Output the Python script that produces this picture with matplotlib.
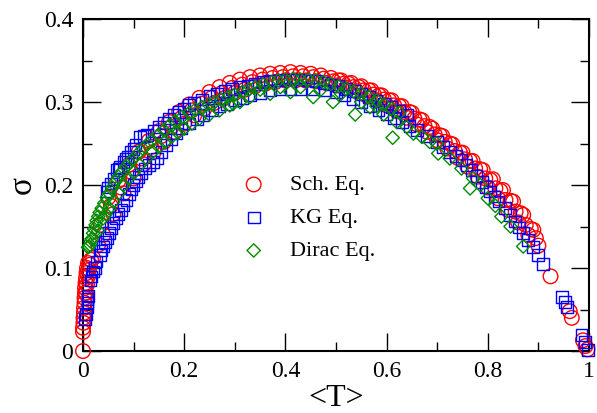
import matplotlib
matplotlib.use("Agg")
import matplotlib.pyplot as plt
from matplotlib.ticker import MultipleLocator, FormatStrFormatter

plt.rcParams['font.family'] = ['Liberation Serif', 'DejaVu Serif']

# Sch. Eq. (red circles)
sch_t = [0.000, 0.000, 0.000, 0.001, 0.001, 0.002, 0.002, 0.003, 0.003, 0.004, 0.004,
         0.005, 0.006, 0.007, 0.008, 0.010, 0.006, 0.008, 0.010, 0.012, 0.014, 0.016,
         # lower track
         0.02, 0.03, 0.04, 0.06, 0.08, 0.10, 0.12, 0.14, 0.16, 0.18, 0.20, 0.22, 0.24,
         0.26, 0.28, 0.30, 0.32, 0.34, 0.36, 0.38, 0.40, 0.42, 0.44, 0.46, 0.48, 0.50,
         0.52, 0.54, 0.56, 0.58, 0.60, 0.62, 0.64, 0.66, 0.68, 0.70, 0.72, 0.74, 0.76,
         0.78, 0.80, 0.82, 0.84, 0.86, 0.88, 0.90,
         # upper track
         0.05, 0.07, 0.09, 0.11, 0.13, 0.15, 0.17, 0.19, 0.21, 0.23, 0.25, 0.27, 0.29,
         0.31, 0.33, 0.35, 0.37, 0.39, 0.41, 0.43, 0.45, 0.47, 0.49, 0.51, 0.53, 0.55,
         0.57, 0.59, 0.61, 0.63, 0.65, 0.67, 0.69, 0.71, 0.73, 0.75, 0.77, 0.79, 0.81,
         0.83, 0.85, 0.87, 0.89,
         # middle track
         0.035, 0.055, 0.075, 0.095, 0.115, 0.135, 0.155, 0.175, 0.195, 0.215, 0.235,
         0.255, 0.275, 0.295, 0.315, 0.335, 0.355, 0.375, 0.395, 0.415, 0.435, 0.455,
         0.475, 0.495, 0.515, 0.535, 0.555, 0.575, 0.595, 0.615, 0.635, 0.655, 0.675,
         0.695, 0.715, 0.735, 0.755, 0.775, 0.795, 0.815, 0.835, 0.855, 0.875, 0.895,
         # extra points on the falling side
         0.505, 0.525, 0.545, 0.565, 0.585, 0.605, 0.625, 0.645, 0.665, 0.685, 0.705,
         0.725, 0.745, 0.765, 0.785, 0.805, 0.825, 0.845, 0.865, 0.885,
         # tail
         0.924, 0.962, 0.966, 0.988, 0.993, 0.997]
sch_sigma = [0.000, 0.023, 0.028, 0.034, 0.040, 0.046, 0.052, 0.058, 0.064, 0.070, 0.076,
             0.082, 0.088, 0.094, 0.100, 0.106, 0.070, 0.080, 0.090, 0.098, 0.104, 0.110,
             0.112, 0.128, 0.140, 0.165, 0.190, 0.208, 0.225, 0.240, 0.252, 0.264, 0.274,
             0.284, 0.292, 0.299, 0.305, 0.311, 0.315, 0.319, 0.322, 0.324, 0.326, 0.326,
             0.326, 0.325, 0.323, 0.320, 0.317, 0.313, 0.308, 0.302, 0.296, 0.289, 0.281,
             0.273, 0.264, 0.254, 0.244, 0.233, 0.222, 0.210, 0.197, 0.184, 0.170, 0.155,
             0.140, 0.127,
             0.185, 0.205, 0.224, 0.240, 0.253, 0.265, 0.276, 0.288, 0.297, 0.305, 0.312,
             0.318, 0.323, 0.327, 0.330, 0.332, 0.334, 0.335, 0.336, 0.335, 0.334, 0.332,
             0.329, 0.326, 0.323, 0.319, 0.314, 0.308, 0.302, 0.295, 0.287, 0.278, 0.268,
             0.259, 0.249, 0.239, 0.229, 0.218, 0.207, 0.194, 0.180, 0.164, 0.146,
             0.152, 0.175, 0.197, 0.216, 0.232, 0.246, 0.259, 0.270, 0.281, 0.290, 0.298,
             0.305, 0.311, 0.317, 0.321, 0.324, 0.327, 0.329, 0.330, 0.331, 0.331, 0.330,
             0.328, 0.325, 0.322, 0.318, 0.314, 0.309, 0.303, 0.296, 0.288, 0.280, 0.271,
             0.261, 0.252, 0.241, 0.231, 0.220, 0.208, 0.196, 0.182, 0.168, 0.152, 0.136,
             0.326, 0.322, 0.318, 0.314, 0.308, 0.302, 0.295, 0.288, 0.279, 0.270, 0.260,
             0.250, 0.239, 0.229, 0.219, 0.206, 0.193, 0.181, 0.166, 0.147,
             0.090, 0.048, 0.040, 0.013, 0.006, 0.002]

# KG Eq. (blue squares)
kg_t = [0.004, 0.006, 0.009, 0.009, 0.009, 0.010, 0.015, 0.017, 0.024,
        # lower track
        0.020, 0.027, 0.033, 0.036, 0.040, 0.044, 0.048, 0.052, 0.056, 0.060, 0.065,
        0.070, 0.075, 0.080, 0.086, 0.091, 0.096, 0.100, 0.105, 0.110, 0.115, 0.122,
        0.130, 0.138, 0.146, 0.155, 0.165, 0.175, 0.185, 0.195, 0.210, 0.225, 0.238,
        0.255, 0.270, 0.285, 0.300, 0.315, 0.330, 0.350, 0.370, 0.390, 0.410, 0.430,
        0.455, 0.478, 0.500, 0.517, 0.534, 0.550, 0.567, 0.584, 0.600, 0.615, 0.630,
        0.645, 0.660, 0.680, 0.699, 0.712, 0.725, 0.737, 0.748, 0.758, 0.768, 0.778,
        0.788, 0.797, 0.805, 0.813, 0.821, 0.834, 0.844, 0.854, 0.862, 0.870, 0.880,
        0.889, 0.899, 0.909,
        0.946, 0.953, 0.956, 0.985, 0.992, 0.998,
        # upper track
        0.047, 0.050, 0.055, 0.060, 0.066, 0.070, 0.073, 0.080, 0.084, 0.088, 0.095,
        0.100, 0.104, 0.113, 0.120, 0.126, 0.140, 0.150, 0.160, 0.170, 0.180, 0.190,
        0.200, 0.210, 0.220, 0.235, 0.250, 0.265, 0.280, 0.295, 0.310, 0.325, 0.340,
        0.355, 0.370, 0.385, 0.400, 0.415, 0.430, 0.445, 0.460, 0.475, 0.490, 0.505,
        0.520, 0.535, 0.550, 0.565, 0.580, 0.595, 0.610, 0.625, 0.640]
kg_sigma = [0.039, 0.045, 0.053, 0.058, 0.063, 0.066, 0.085, 0.090, 0.100,
            0.096, 0.108, 0.116, 0.121, 0.126, 0.131, 0.136, 0.142, 0.148, 0.154, 0.160,
            0.165, 0.170, 0.176, 0.182, 0.189, 0.195, 0.200, 0.205, 0.210, 0.214, 0.220,
            0.224, 0.228, 0.232, 0.240, 0.248, 0.255, 0.262, 0.268, 0.274, 0.279, 0.284,
            0.290, 0.295, 0.298, 0.302, 0.305, 0.308, 0.311, 0.314, 0.315, 0.316, 0.316,
            0.316, 0.314, 0.312, 0.308, 0.304, 0.300, 0.295, 0.290, 0.285, 0.281, 0.276,
            0.271, 0.266, 0.259, 0.252, 0.246, 0.240, 0.235, 0.230, 0.224, 0.218, 0.211,
            0.204, 0.198, 0.192, 0.186, 0.180, 0.172, 0.164, 0.156, 0.149, 0.142, 0.134,
            0.125, 0.116, 0.105,
            0.065, 0.059, 0.053, 0.019, 0.011, 0.001,
            0.192, 0.197, 0.202, 0.207, 0.218, 0.220, 0.222, 0.228, 0.231, 0.234, 0.240,
            0.243, 0.248, 0.258, 0.259, 0.260, 0.265, 0.270, 0.275, 0.280, 0.284, 0.288,
            0.292, 0.296, 0.299, 0.303, 0.307, 0.310, 0.313, 0.316, 0.318, 0.320, 0.322,
            0.324, 0.325, 0.326, 0.327, 0.327, 0.327, 0.326, 0.325, 0.323, 0.321, 0.319,
            0.316, 0.313, 0.310, 0.306, 0.302, 0.298, 0.294, 0.289, 0.284]

# Dirac Eq. (green diamonds)
dirac_t = [0.010, 0.012, 0.014, 0.015, 0.017, 0.020, 0.022, 0.025, 0.027, 0.030, 0.033,
           0.037, 0.042, 0.047, 0.052, 0.058, 0.064, 0.070, 0.077, 0.085, 0.092, 0.100,
           0.109, 0.118, 0.127, 0.136, 0.148, 0.160, 0.171, 0.182, 0.196, 0.210, 0.222,
           0.235, 0.248, 0.260, 0.273, 0.287, 0.300, 0.315, 0.328, 0.340, 0.356, 0.373,
           0.386, 0.400, 0.415, 0.430, 0.445, 0.460, 0.475, 0.490, 0.505, 0.520, 0.535,
           0.550, 0.565, 0.580, 0.595, 0.610, 0.625,
           # lower track
           0.030, 0.040, 0.045, 0.052, 0.060, 0.070, 0.080, 0.090, 0.100, 0.112, 0.125,
           0.138, 0.150, 0.162, 0.175, 0.188, 0.200, 0.215, 0.230, 0.250, 0.270, 0.290,
           0.297, 0.310, 0.330, 0.350, 0.370, 0.390, 0.410, 0.430, 0.455, 0.470, 0.494,
           0.510, 0.538, 0.550, 0.567, 0.580, 0.594, 0.612, 0.620, 0.640, 0.653, 0.670,
           0.685, 0.699, 0.702, 0.725, 0.748, 0.765, 0.771, 0.785, 0.800, 0.815, 0.827,
           0.845, 0.870]
dirac_sigma = [0.125, 0.126, 0.128, 0.132, 0.135, 0.142, 0.147, 0.152, 0.157, 0.162, 0.167,
               0.172, 0.178, 0.185, 0.190, 0.197, 0.204, 0.210, 0.216, 0.222, 0.227, 0.232,
               0.238, 0.244, 0.249, 0.254, 0.260, 0.266, 0.272, 0.277, 0.282, 0.287, 0.291,
               0.294, 0.297, 0.300, 0.303, 0.306, 0.309, 0.312, 0.315, 0.318, 0.321, 0.324,
               0.326, 0.327, 0.328, 0.327, 0.327, 0.326, 0.324, 0.322, 0.319, 0.316, 0.313,
               0.310, 0.306, 0.302, 0.297, 0.292, 0.287,
               0.145, 0.160, 0.165, 0.172, 0.180, 0.190, 0.200, 0.208, 0.215, 0.224, 0.232,
               0.240, 0.246, 0.252, 0.258, 0.263, 0.268, 0.274, 0.280, 0.285, 0.290, 0.296,
               0.298, 0.300, 0.306, 0.315, 0.310, 0.318, 0.312, 0.318, 0.306, 0.315, 0.300,
               0.310, 0.285, 0.300, 0.294, 0.295, 0.285, 0.257, 0.276, 0.270, 0.262, 0.258,
               0.252, 0.250, 0.238, 0.232, 0.220, 0.196, 0.208, 0.200, 0.184, 0.175, 0.162,
               0.150, 0.126]

fig = plt.figure(figsize=(5.97, 4.13), dpi=100)
ax = fig.add_axes([0.139, 0.150, 0.8476, 0.804])

ax.scatter(sch_t, sch_sigma, s=10.5**2, facecolors='none', edgecolors='#ff0000',
           linewidths=1.0, marker='o', label='Sch. Eq.', clip_on=False, zorder=3)
ax.scatter(kg_t, kg_sigma, s=8.4**2, facecolors='none', edgecolors='#0000ff',
           linewidths=1.0, marker='s', label='KG Eq.', clip_on=False, zorder=4)
ax.scatter(dirac_t, dirac_sigma, s=6.8**2, facecolors='none', edgecolors='#008b00',
           linewidths=1.0, marker='D', label='Dirac Eq.', clip_on=False, zorder=5)

ax.set_xlim(0, 1)
ax.set_ylim(0, 0.4)
ax.xaxis.set_major_locator(MultipleLocator(0.2))
ax.xaxis.set_minor_locator(MultipleLocator(0.1))
ax.yaxis.set_major_locator(MultipleLocator(0.1))
ax.yaxis.set_minor_locator(MultipleLocator(0.05))
ax.xaxis.set_major_formatter(FormatStrFormatter('%g'))
ax.yaxis.set_major_formatter(FormatStrFormatter('%g'))
ax.tick_params(which='both', direction='in', top=True, right=True, width=1.0,
               labelsize=17, pad=7)
ax.tick_params(which='major', length=13)
ax.tick_params(which='minor', length=6.5)
for sp in ax.spines.values():
    sp.set_linewidth(1.5)

fig.text(22 / 597, 1 - 185 / 413, 'σ', fontsize=24, rotation=90,
         ha='center', va='center')
fig.text(336 / 597, 0.017, '<T>', fontsize=23, ha='center', va='baseline')

ax.legend(loc='upper left', bbox_to_anchor=(0.3154, 0.531), frameon=False,
          fontsize=16, scatterpoints=1, handlelength=1.0, handletextpad=1.13,
          borderpad=0, borderaxespad=0, labelspacing=0.56)

fig.savefig('out.png', dpi=100)
